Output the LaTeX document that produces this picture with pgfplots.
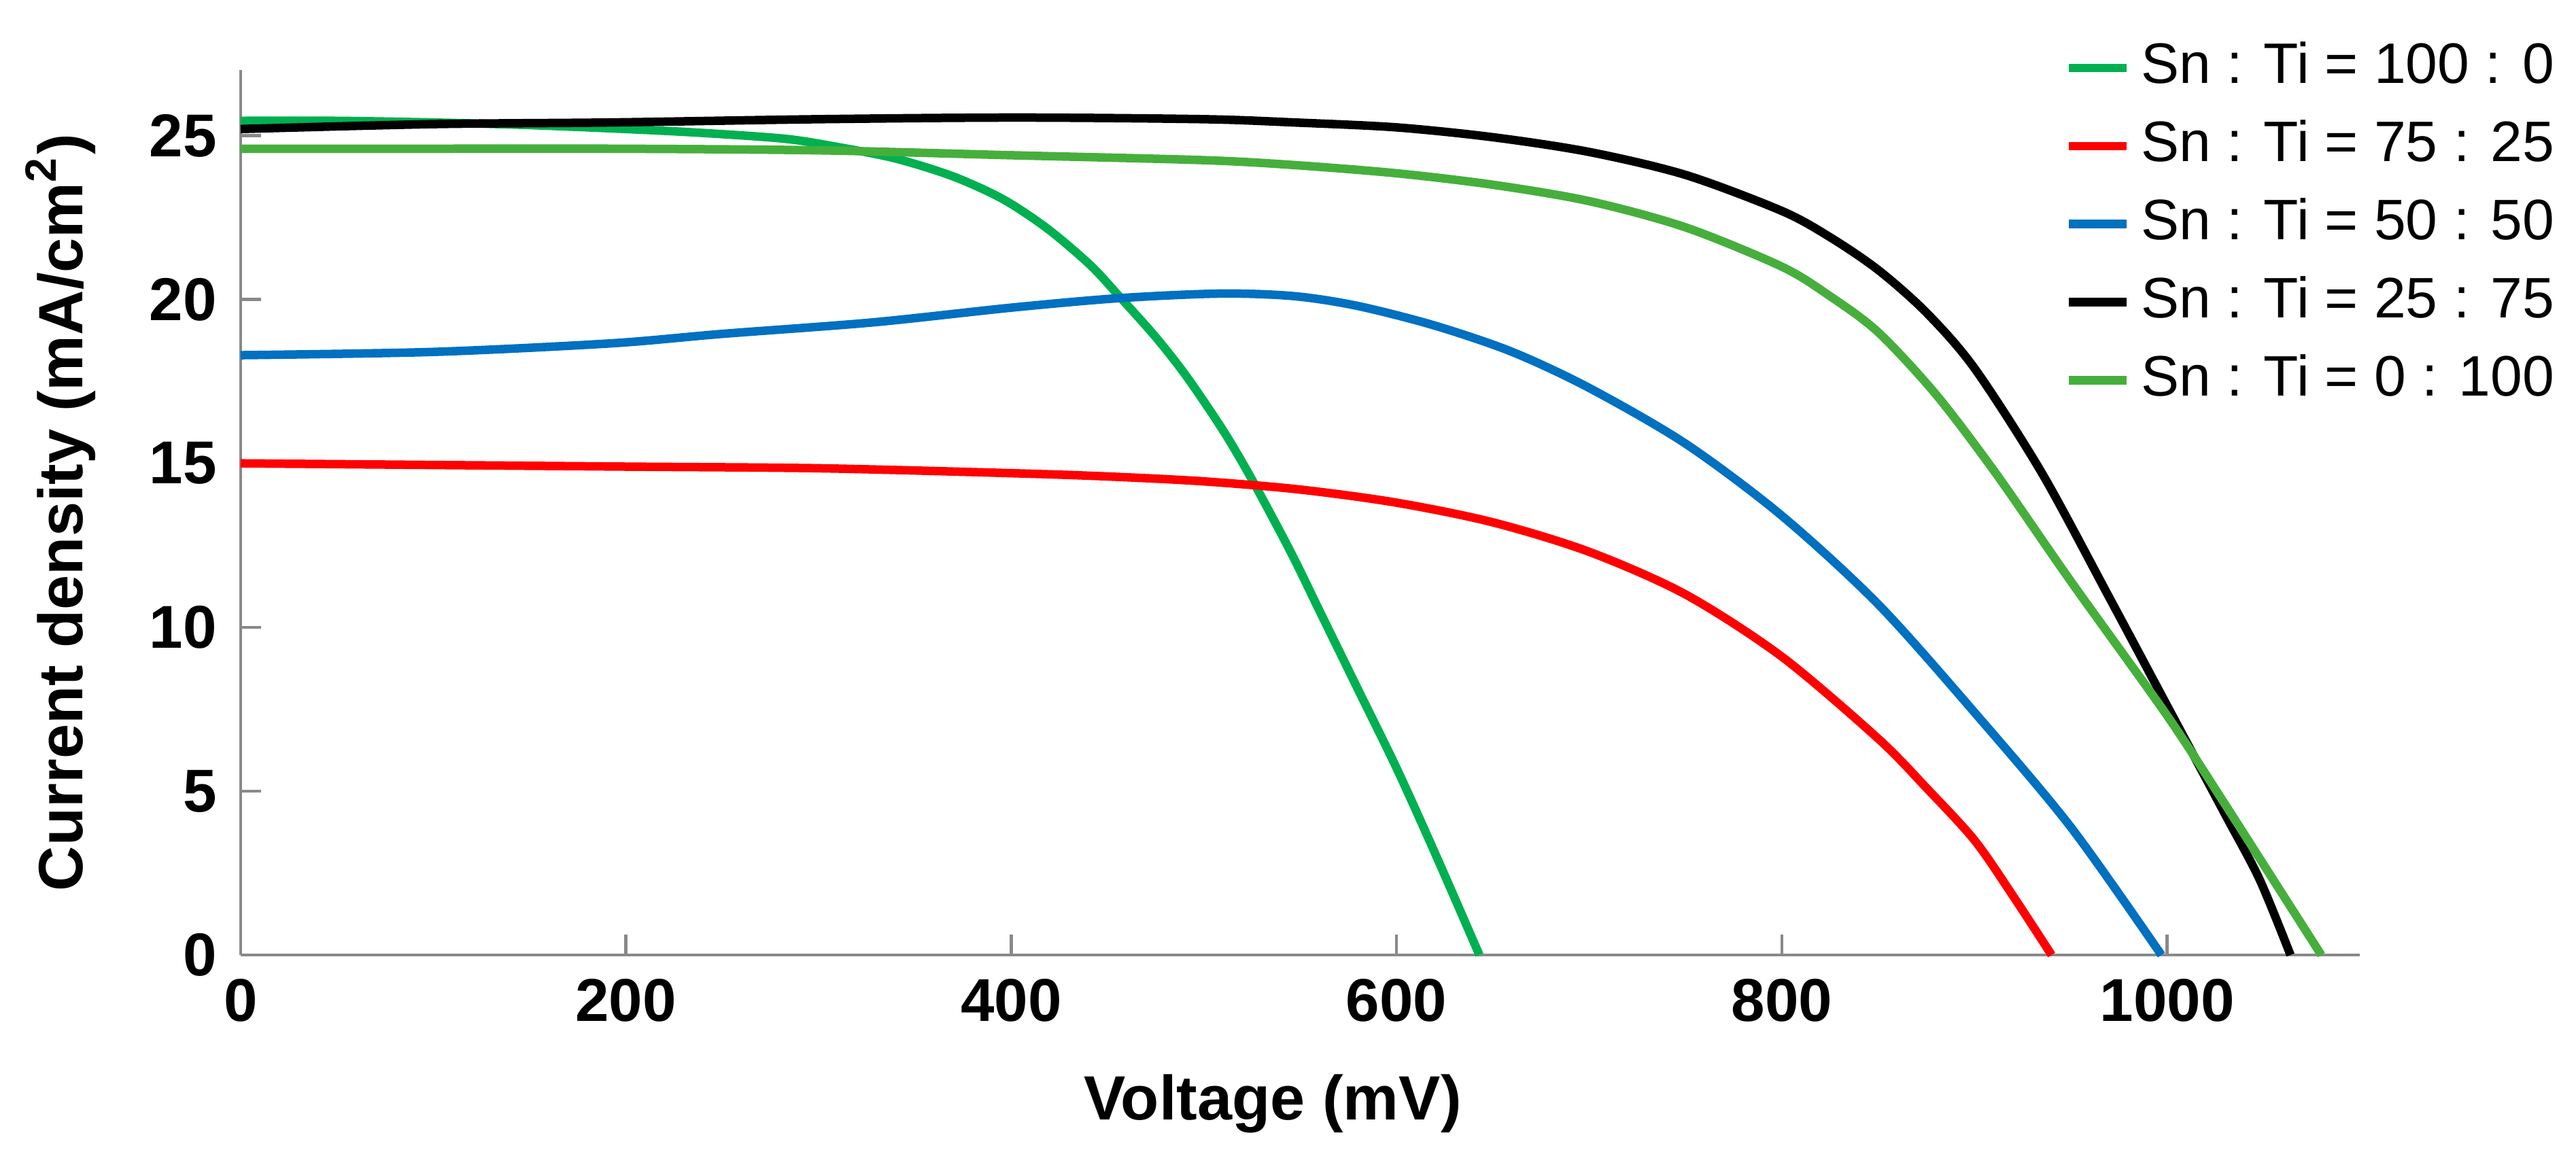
\documentclass[border=0pt]{standalone}
\usepackage{fontspec}
\setmainfont{Liberation Sans}
\usepackage{pgfplots}
\pgfplotsset{compat=1.18}
\definecolor{gA}{RGB}{0,176,80}
\definecolor{rB}{RGB}{255,0,0}
\definecolor{bC}{RGB}{0,112,192}
\definecolor{gE}{RGB}{70,175,60}
\definecolor{axgray}{RGB}{137,137,137}
\begin{document}
\begin{tikzpicture}
\useasboundingbox (-35.4pt,-30.8pt) rectangle (343.5pt,140.5pt);
\begin{axis}[
  scale only axis,
  width=311.7pt, height=130.2pt,
  xmin=0, xmax=1100, ymin=0, ymax=27,
  axis lines=left,
  axis line style={-, draw=axgray, line width=0.45pt},
  tick style={draw=axgray, line width=0.45pt},
  major tick length=3pt,
  tick align=inside,
  xtick={0,200,...,1000}, ytick={0,5,...,25},
  minor tick num=0,
  /pgf/number format/1000 sep={},
  /pgf/number format/assume math mode=true,
  ticklabel style={font=\bfseries\fontsize{8.9}{10}\selectfont},
  xlabel={Voltage (mV)},
  ylabel={Current density (mA/cm\textsuperscript{2})},
  label style={font=\bfseries\fontsize{9.2}{11}\selectfont},
  xlabel style={at={(axis description cs:0.487,-0.168)}, anchor=center},
  ylabel style={at={(axis description cs:-0.085,0.5)}, anchor=center},
  clip=false,
  legend cell align=left,
  legend image code/.code={\draw[#1, line width=1.25pt] (0pt,0pt) -- (8.5pt,0pt);},
  legend style={draw=none, fill=none, at={(axis description cs:0.86,1.033)}, anchor=north west,
    inner xsep=0pt, inner ysep=0pt, row sep=3.9pt, column sep=1.5pt,
    nodes={inner sep=0pt, anchor=west},
    font=\fontsize{8.4}{10}\selectfont},
  every axis plot/.append style={line width=1.25pt, smooth, tension=0.5},
]
\addplot[gA] coordinates {
(0,25.45)(50,25.45)(100,25.4)(150,25.32)(200,25.2)(240,25.08)(283,24.9)(310,24.65)
(340,24.3)(370,23.75)(396,23.05)(419,22.15)(441,21.05)(456,20.1)(475,18.85)(491,17.65)
(510,16.0)(525,14.5)(545,12.3)(560,10.5)(580,8.1)(600,5.7)(620,3.1)(643,0)};
\addlegendentry{Sn : Ti = 100 : 0}
\addplot[rB] coordinates {
(0,15.0)(100,14.95)(200,14.9)(300,14.85)(400,14.7)(450,14.6)(500,14.45)(550,14.2)
(600,13.8)(650,13.2)(700,12.3)(750,11.0)(800,9.1)(850,6.6)(875,5.1)(900,3.5)(920,1.8)(940,0)};
\addlegendentry{Sn : Ti = 75 : 25}
\addplot[bC] coordinates {
(0,18.3)(100,18.4)(192,18.66)(250,18.95)(328,19.3)(400,19.75)(456,20.04)(509,20.18)
(547,20.1)(580,19.8)(620,19.2)(660,18.4)(700,17.3)(750,15.6)(800,13.4)(850,10.7)
(900,7.4)(950,3.9)(997,0)};
\addlegendentry{Sn : Ti = 50 : 50}
\addplot[black] coordinates {
(0,25.2)(100,25.35)(192,25.4)(300,25.5)(403,25.55)(500,25.5)(547,25.4)(600,25.25)
(650,24.95)(700,24.5)(750,23.8)(800,22.7)(825,21.9)(850,20.9)(875,19.6)(900,17.9)(935,14.7)(970,10.9)
(1000,7.6)(1030,4.3)(1048,2.3)(1064,0)};
\addlegendentry{Sn : Ti = 25 : 75}
\addplot[gE] coordinates {
(0,24.6)(100,24.6)(192,24.6)(300,24.55)(400,24.4)(500,24.25)(547,24.1)(600,23.85)
(650,23.5)(700,23.0)(750,22.2)(800,21.0)(825,20.1)(850,19.0)(880,17.1)(911,14.7)(950,11.4)
(1000,7.3)(1030,4.6)(1055,2.3)(1080,0)};
\addlegendentry{Sn : Ti = 0 : 100}
\end{axis}
\end{tikzpicture}
\end{document}
